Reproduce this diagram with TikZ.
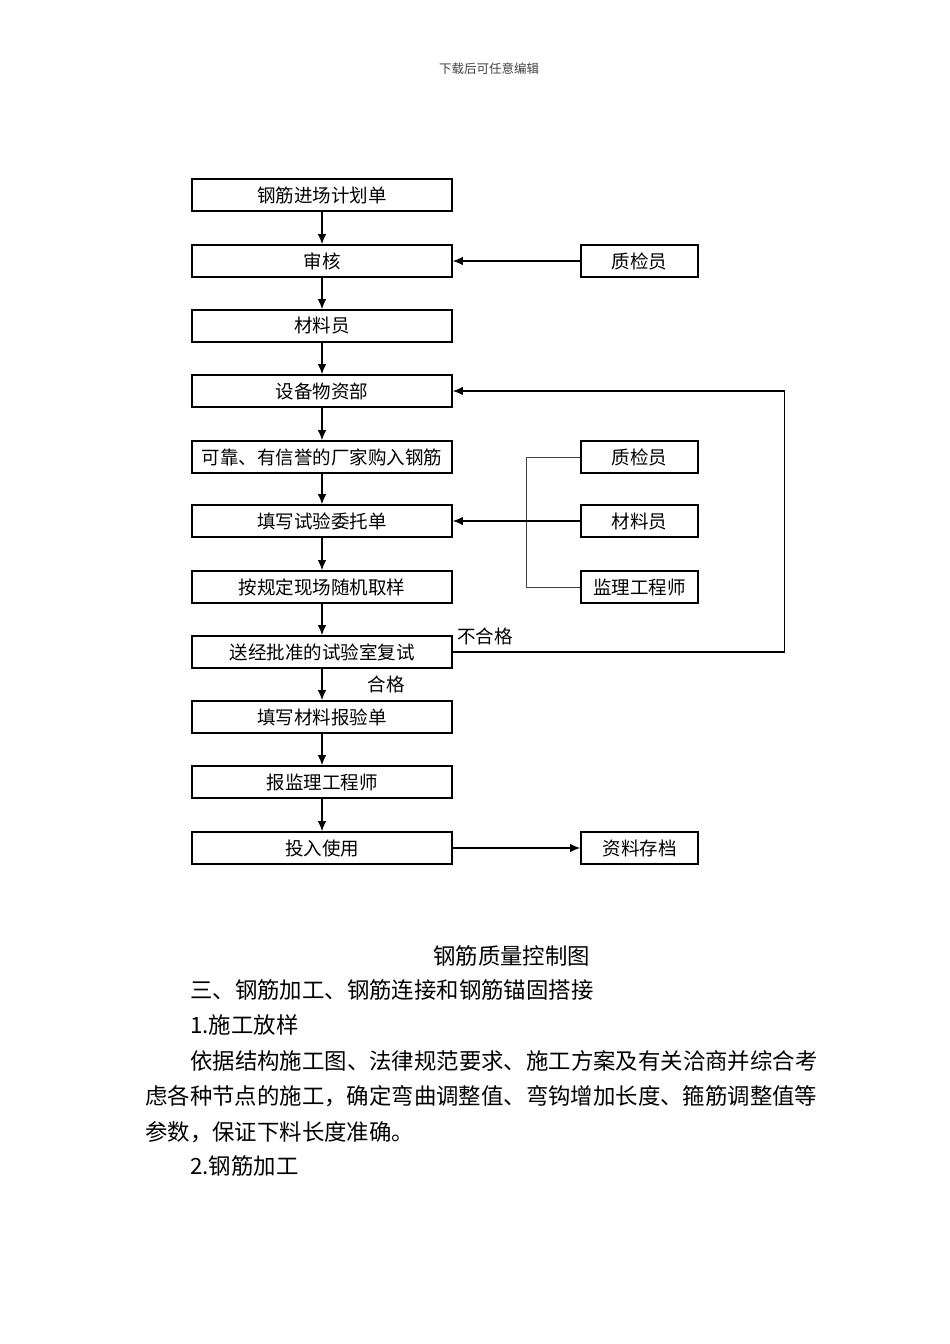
\documentclass[tikz,border=0pt]{standalone}
\usepackage{fontspec}
\setmainfont{Noto Sans CJK SC}
\usetikzlibrary{arrows.meta}

\begin{document}
\begin{tikzpicture}[x=1pt, y=-1pt, >={Latex[length=10pt,width=8.5pt]},
  flowbox/.style={draw, rectangle, line width=1.6pt, minimum width=260pt, minimum height=32pt, inner sep=0pt, font=\fontsize{18.5}{18.5}\selectfont},
  sidebox/.style={flowbox, minimum width=117pt},
  link/.style={->, line width=1.3pt},
  bracket/.style={line width=1pt, black!75},
  body/.style={anchor=base west, inner sep=0pt, font=\fontsize{22.4}{22.4}\selectfont}]
\useasboundingbox (0,0) rectangle (950,1344);

\node[font=\fontsize{12.5}{12.5}\selectfont, text=black!75] (head) at (489,69) {下载后可任意编辑};

% main column
\node[flowbox] (jhd) at (322,195) {钢筋进场计划单};
\node[flowbox] (sh) at (322,261) {审核};
\node[flowbox] (cly) at (322,326) {材料员};
\node[flowbox] (sbwz) at (322,391) {设备物资部};
\node[flowbox] (gjgr) at (322,457) {可靠、有信誉的厂家购入钢筋};
\node[flowbox] (wtd) at (322,521) {填写试验委托单};
\node[flowbox] (qy) at (322,587) {按规定现场随机取样};
\node[flowbox] (fs) at (322,652) {送经批准的试验室复试};
\node[flowbox] (byd) at (322,717) {填写材料报验单};
\node[flowbox] (bjl) at (322,782) {报监理工程师};
\node[flowbox] (tr) at (322,848) {投入使用};

% side boxes
\node[sidebox] (zjy1) at (639.5,261) {质检员};
\node[sidebox] (zjy2) at (639.5,457) {质检员};
\node[sidebox] (cly2) at (639.5,521) {材料员};
\node[sidebox] (jlgcs) at (639.5,587) {监理工程师};
\node[sidebox] (zlcd) at (639.5,848) {资料存档};

\draw[link] (jhd) -- (sh);
\draw[link] (sh) -- (cly);
\draw[link] (cly) -- (sbwz);
\draw[link] (sbwz) -- (gjgr);
\draw[link] (gjgr) -- (wtd);
\draw[link] (wtd) -- (qy);
\draw[link] (qy) -- (fs);
\draw[link] (fs) -- (byd) node[midway, right=42pt, font=\fontsize{18.5}{18.5}\selectfont] {合格};
\draw[link] (byd) -- (bjl);
\draw[link] (bjl) -- (tr);

\draw[link] (zjy1) -- (sh);
\draw[link] (tr) -- (zlcd);
\draw[bracket] (zjy2.west) -- ++(-54,0) |- (jlgcs.west);
\draw[link] (cly2) -- (wtd);
\draw[link] (fs.east) -- ++(332,0) |- (sbwz.east);
\node[font=\fontsize{18.5}{18.5}\selectfont] (bhg) at (485,636) {不合格};

% text below
\node[body] (title) at (433,964.5) {钢筋质量控制图};
\node[body] (l1) at (190,998.5) {三、钢筋加工、钢筋连接和钢筋锚固搭接};
\node[body] (l2) at (190,1033.5) {1.施工放样};
\node[body] (l3) at (190,1069.5) {依据结构施工图、法律规范要求、施工方案及有关洽商并综合考};
\node[body] (l4) at (145,1104.5) {虑各种节点的施工，确定弯曲调整值、弯钩增加长度、箍筋调整值等};
\node[body] (l5) at (145,1140.5) {参数，保证下料长度准确。};
\node[body] (l6) at (190,1174.5) {2.钢筋加工};
\end{tikzpicture}
\end{document}
